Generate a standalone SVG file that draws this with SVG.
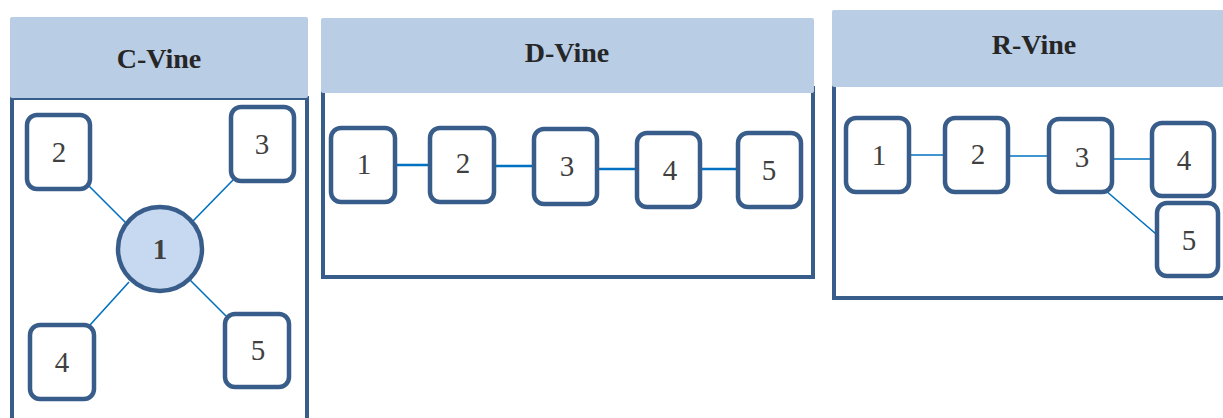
<svg xmlns="http://www.w3.org/2000/svg" width="1223" height="418" viewBox="0 0 1223 418">
<style>
.hdr{fill:#b9cde5;}
.frame{fill:none;stroke:#385d8a;stroke-width:4;}
.node{fill:#ffffff;stroke:#385d8a;stroke-width:4.5;}
.hub{fill:#c6d9f1;stroke:#385d8a;stroke-width:4.5;}
.ttl{font-family:"Liberation Serif",serif;font-weight:bold;font-size:28px;fill:#262626;text-anchor:middle;}
.num{font-family:"Liberation Serif",serif;font-size:29px;fill:#404040;text-anchor:middle;}
.numb{font-family:"Liberation Serif",serif;font-weight:bold;font-size:29px;fill:#404040;text-anchor:middle;}
.ln{stroke:#0070c0;stroke-width:1.6;fill:none;}
.lnt{stroke:#0070c0;stroke-width:2.6;fill:none;}
</style>
<rect width="1223" height="418" fill="#ffffff"/>
<!-- panels -->
<g id="panel-c">
<rect class="frame" x="12" y="98" width="295" height="340"/>
<rect class="hdr" x="10" y="17" width="298" height="81" rx="2"/>
<text class="ttl" x="159" y="68">C-Vine</text>
</g>
<g id="panel-d">
<rect class="frame" x="323" y="88" width="490" height="189"/>
<rect class="hdr" x="321" y="18" width="493" height="75" rx="2"/>
<text class="ttl" x="567" y="62">D-Vine</text>
</g>
<g id="panel-r">
<rect class="frame" x="834" y="78" width="400" height="220"/>
<rect class="hdr" x="832" y="10" width="400" height="77" rx="2"/>
<text class="ttl" x="1034" y="54">R-Vine</text>
</g>
<!-- connectors -->
<g id="connectors">
<line class="ln" x1="88" y1="185" x2="127" y2="224"/>
<line class="ln" x1="233" y1="180" x2="193" y2="221"/>
<line class="ln" x1="90" y1="325" x2="129" y2="282"/>
<line class="ln" x1="226" y1="316" x2="189" y2="279"/>
<line class="lnt" x1="396" y1="165" x2="429" y2="165"/>
<line class="lnt" x1="495" y1="166" x2="533" y2="166"/>
<line class="lnt" x1="598" y1="169" x2="636" y2="169"/>
<line class="lnt" x1="701" y1="169" x2="737" y2="169"/>
<line class="ln" x1="910" y1="155" x2="944" y2="155"/>
<line class="ln" x1="1009" y1="156" x2="1048" y2="156"/>
<line class="ln" x1="1113" y1="159" x2="1151" y2="159"/>
<line class="ln" x1="1105" y1="190" x2="1156" y2="234"/>
</g>
<!-- C-Vine nodes -->
<g id="c1"><circle class="hub" cx="160" cy="249" r="42"/><text class="numb" x="160" y="259">1</text></g>
<g id="c2"><rect class="node" x="27" y="115" width="63" height="74" rx="10"/><text class="num" x="59" y="162">2</text></g>
<g id="c3"><rect class="node" x="231" y="107" width="63" height="74" rx="10"/><text class="num" x="262" y="154">3</text></g>
<g id="c4"><rect class="node" x="30" y="325" width="64" height="74" rx="10"/><text class="num" x="62" y="372">4</text></g>
<g id="c5"><rect class="node" x="225" y="314" width="64" height="73" rx="10"/><text class="num" x="258" y="360">5</text></g>
<!-- D-Vine nodes -->
<g id="d1"><rect class="node" x="331" y="128" width="64" height="74" rx="10"/><text class="num" x="364" y="174">1</text></g>
<g id="d2"><rect class="node" x="430" y="128" width="64" height="74" rx="10"/><text class="num" x="463" y="173">2</text></g>
<g id="d3"><rect class="node" x="534" y="129" width="63" height="75" rx="10"/><text class="num" x="567" y="176">3</text></g>
<g id="d4"><rect class="node" x="637" y="133" width="63" height="74" rx="10"/><text class="num" x="670" y="180">4</text></g>
<g id="d5"><rect class="node" x="738" y="133" width="63" height="74" rx="10"/><text class="num" x="769" y="180">5</text></g>
<!-- R-Vine nodes -->
<g id="r1"><rect class="node" x="846" y="118" width="63" height="74" rx="10"/><text class="num" x="879" y="165">1</text></g>
<g id="r2"><rect class="node" x="945" y="118" width="63" height="74" rx="10"/><text class="num" x="978" y="164">2</text></g>
<g id="r3"><rect class="node" x="1049" y="119" width="63" height="73" rx="10"/><text class="num" x="1082" y="167">3</text></g>
<g id="r4"><rect class="node" x="1152" y="123" width="62" height="73" rx="10"/><text class="num" x="1184" y="170">4</text></g>
<g id="r5"><rect class="node" x="1157" y="203" width="61" height="73" rx="10"/><text class="num" x="1189" y="250">5</text></g>
</svg>
